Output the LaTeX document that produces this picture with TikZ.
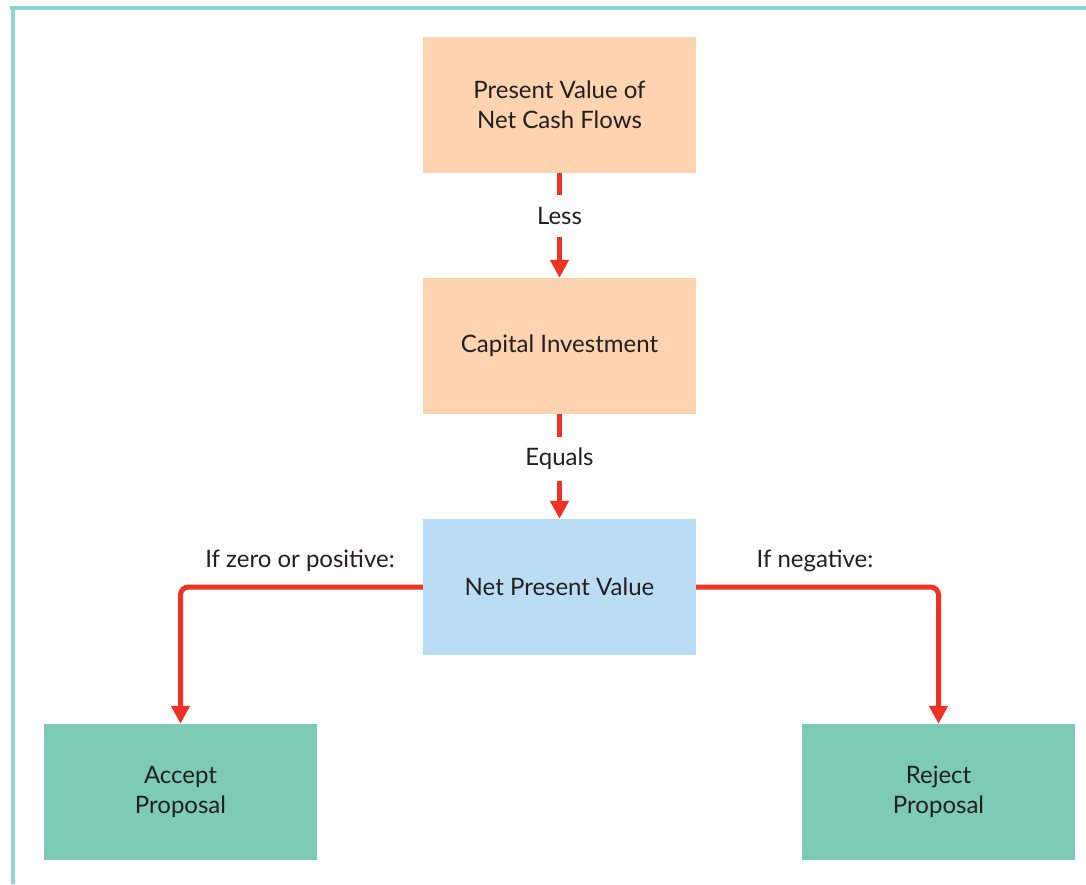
\documentclass[tikz,border=0pt]{standalone}
\usepackage{fontspec}
\setmainfont{Lato}
\usetikzlibrary{arrows.meta}
\definecolor{peach}{HTML}{FDD3B0}
\definecolor{skyb}{HTML}{BBDDF3}
\definecolor{teal}{HTML}{7ECBB5}
\definecolor{arrred}{HTML}{EE3224}
\definecolor{frame}{HTML}{93D1DA}
\definecolor{txt}{HTML}{231F20}
\tikzset{
  box/.style={minimum width=273pt, minimum height=136pt, inner sep=0pt, align=center, text=txt, font=\fontsize{24}{30}\selectfont},
  conn/.style={draw=arrred, line width=5pt, -{Triangle[length=18pt,width=18pt]}, rounded corners=8pt},
  lbl/.style={text=txt, font=\fontsize{24}{28}\selectfont, inner sep=1pt},
}
\begin{document}
\begin{tikzpicture}[x=1pt,y=-1pt]
\useasboundingbox (0,0) rectangle (1086,884);
\draw[frame, line width=4pt] (10,7.5) -- (1086,7.5);
\draw[frame, line width=4pt] (12.5,5.5) -- (12.5,884);
\node[box, fill=peach] (pv) at (559.5,105) {Present Value of\\Net Cash Flows};
\node[box, fill=peach] (ci) at (559.5,346) {Capital Investment};
\node[box, fill=skyb] (npv) at (559.5,587) {Net Present Value};
\node[box, fill=teal] (acc) at (180.5,792) {Accept\\Proposal};
\node[box, fill=teal] (rej) at (938.5,792) {Reject\\Proposal};
\draw[conn] (pv.south) -- (ci.north);
\node[lbl, fill=white, minimum height=42pt] (less) at (559.5,216) {Less};
\draw[conn] (ci.south) -- (npv.north);
\node[lbl, fill=white, minimum height=44pt] (eq) at (559.5,459) {Equals};
\coordinate (lc) at (180.5,587);
\coordinate (rc) at (938.5,587);
\draw[conn] (npv.west) -- (lc) -- (acc.north);
\draw[conn] (npv.east) -- (rc) -- (rej.north);
\node[lbl] (ifz) at (300,561) {If zero or positive:};
\node[lbl] (ifn) at (815,561) {If negative:};
\end{tikzpicture}
\end{document}
